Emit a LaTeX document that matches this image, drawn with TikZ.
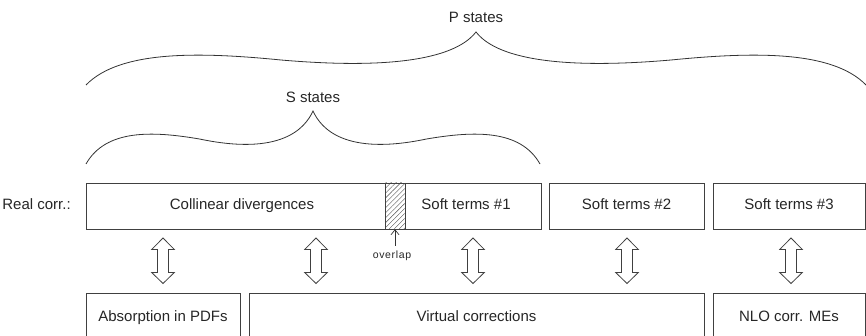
\documentclass[tikz,border=0pt]{standalone}
\usepackage{fontspec}
\setmainfont{Liberation Sans}
\usetikzlibrary{arrows.meta,patterns.meta}
\tikzset{
  dblarr/.pic={
    \draw[black!75, line width=0.8pt, line join=miter]
      (0,0) -- (11.3,11.5) -- (5.5,11.5) -- (5.5,34.5) -- (11.3,34.5) -- (0,45.5)
      -- (-11.3,34.5) -- (-5.5,34.5) -- (-5.5,11.5) -- (-11.3,11.5) -- cycle;
  }
}
\begin{document}
\begin{tikzpicture}[x=1pt,y=-1pt,
  line width=0.8pt,
  every node/.style={inner sep=0pt, text=black!85, font=\fontsize{15}{18}\selectfont},
  box/.style={draw=black!75, minimum height=46pt, text height=11pt, text depth=3.5pt},
  lowbox/.style={draw=black!75, minimum height=50pt, text height=11pt, text depth=3.5pt},
  brace/.style={draw=black!80, line width=0.8pt},
  smalltxt/.style={font=\fontsize{10.5}{12}\selectfont\addfontfeature{LetterSpace=6}}
]
\useasboundingbox (0,0) rectangle (866,336);
\clip (0,0) rectangle (866,336);

% top row
\node[box, minimum width=299pt] (coll) at (235.5,206) {};
\node at (242,206) [text height=11pt, text depth=3.5pt] (colltxt) {Collinear divergences};
\node[box, minimum width=20pt, pattern={Lines[angle=45,distance=3.5pt,line width=0.4pt]}, pattern color=black!70] (hatch) at (395,206) {};
\node[box, minimum width=136pt] (soft1) at (473,206) {};
\node at (466,206) [text height=11pt, text depth=3.5pt] (soft1txt) {Soft terms \#1};
\node[box, minimum width=155pt] (soft2) at (626.5,206) {Soft terms \#2};
\node[box, minimum width=152pt] (soft3) at (789,206) {Soft terms \#3};
\node[anchor=west, text height=11pt, text depth=3.5pt] (real) at (2,206) {Real corr.:};

% bottom row
\node[lowbox, minimum width=154pt] (abs) at (163,318) {Absorption in PDFs};
\node[lowbox, minimum width=455pt] (virt) at (476.5,318) {Virtual corrections};
\node[lowbox, minimum width=152pt] (nlo) at (789,318) {NLO corr. MEs};

% double arrows
\coordinate (a1) at (163,238);
\coordinate (a2) at (316,238);
\coordinate (a3) at (473,238);
\coordinate (a4) at (627,238);
\coordinate (a5) at (791,238);
\foreach \c in {a1,a2,a3,a4,a5} { \pic at (\c) {dblarr}; }

% overlap
\node[smalltxt] (ovltxt) at (392,256) {overlap};
\draw[black!80, line width=0.7pt, -{Straight Barb[length=5pt,width=8pt]}]
  ([yshift=5pt]hatch.south |- ovltxt.north) -- (hatch.south);

% braces
\draw[brace] (86,85) .. controls (120,50) and (200,52) .. (281,60)
  .. controls (420,72) and (462,50) .. (476,32)
  .. controls (490,50) and (532,72) .. (671,60)
  .. controls (752,52) and (832,50) .. (866,85);
\node (ptxt) at (476,17) {P states};

\draw[brace] (86,164) .. controls (105.8,129) and (152.4,131) .. (199.5,139)
  .. controls (280.4,156) and (304.8,129) .. (313,111)
  .. controls (321.2,129) and (345.6,156) .. (426.5,139)
  .. controls (473.6,131) and (520.2,129) .. (540,164);
\node (stxt) at (313,97) {S states};
\end{tikzpicture}
\end{document}
